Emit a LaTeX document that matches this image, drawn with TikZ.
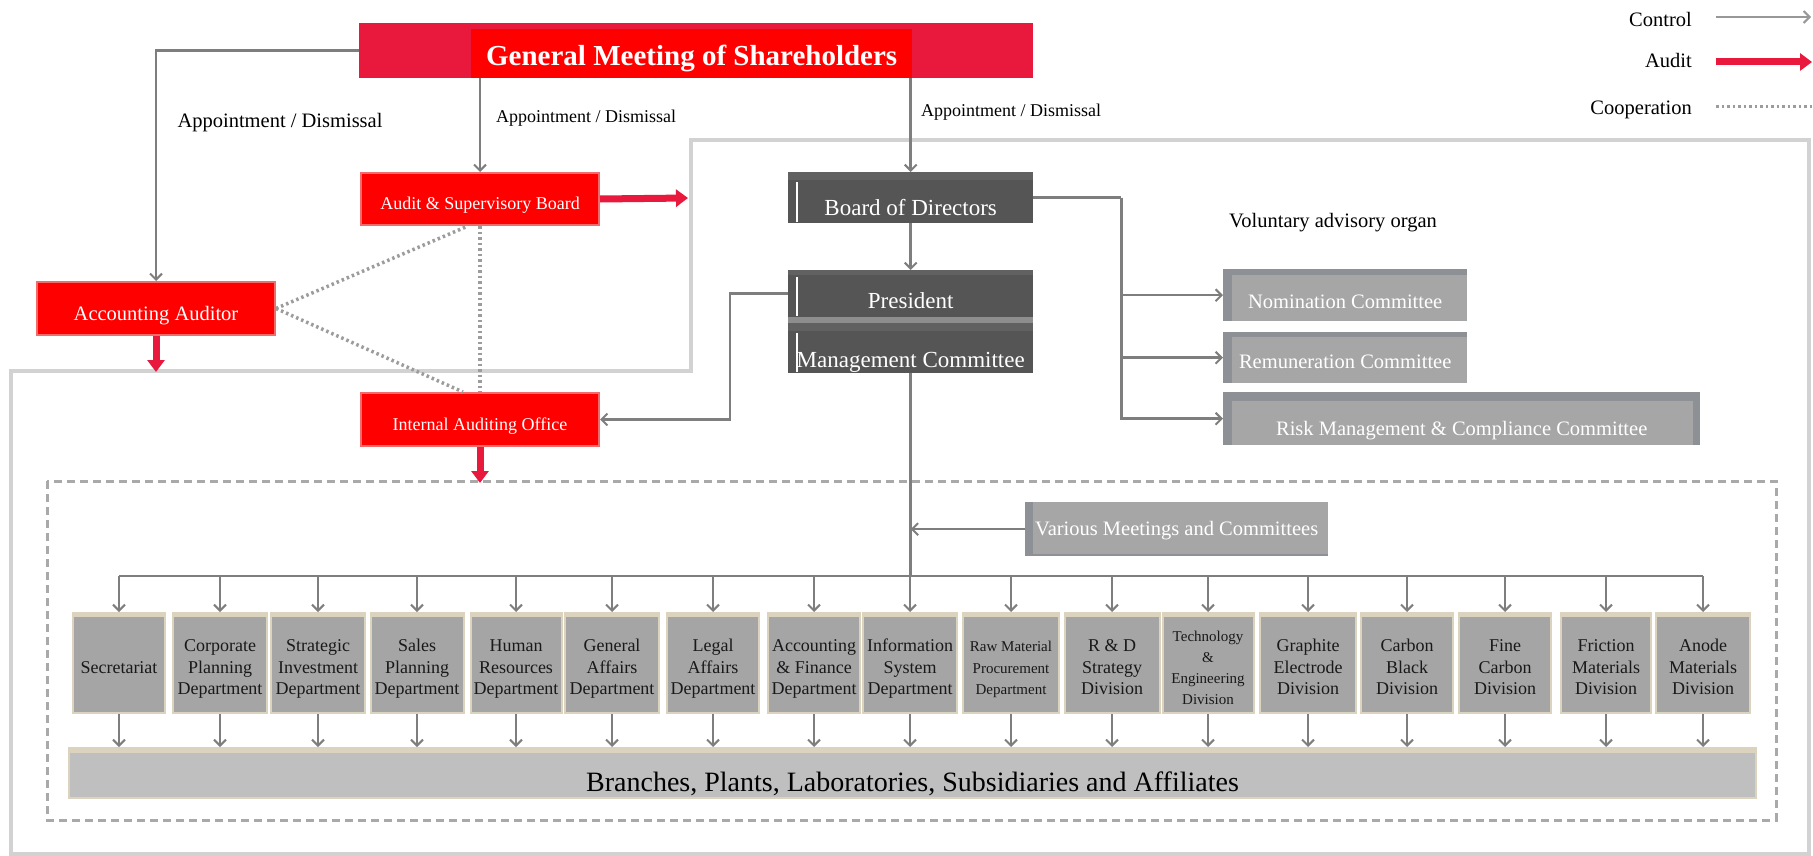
\documentclass[tikz,border=0pt]{standalone}
\usepackage{fontspec}
\setmainfont{Liberation Serif}
\usetikzlibrary{arrows.meta,calc}
\definecolor{crimson}{HTML}{E8193C}
\definecolor{pured}{HTML}{FF0000}
\definecolor{redborder}{HTML}{F36B6B}
\definecolor{darkbox}{HTML}{555555}
\definecolor{darkband}{HTML}{616161}
\definecolor{gapgray}{HTML}{8E8E8E}
\definecolor{comgray}{HTML}{A6A6A6}
\definecolor{comband}{HTML}{8D9094}
\definecolor{deptgray}{HTML}{A5A5A5}
\definecolor{tanc}{HTML}{DBD3BD}
\definecolor{bargray}{HTML}{BFBFBF}
\definecolor{ctrlgray}{HTML}{7E7E7E}
\definecolor{outlinegray}{HTML}{D2D2D2}
\definecolor{dashgray}{HTML}{A9A9A9}
\definecolor{coopgray}{HTML}{9C9C9C}
\newcommand{\myfs}[2]{\fontsize{#1}{#2}\selectfont}
\begin{document}
\begin{tikzpicture}[x=1pt,y=-1pt,
  ctrl/.style={draw=ctrlgray,line width=2.5pt,-{Straight Barb[length=6pt,width=12pt,line width=2pt]}},
  ctrlline/.style={draw=ctrlgray,line width=2.5pt},
  audit/.style={draw=crimson,line width=7pt,-{Triangle[length=12pt,width=17pt]}},
  coop/.style={draw=coopgray,line width=3.5pt,dash pattern=on 2.5pt off 3pt},
  redbox/.style={anchor=north west,fill=pured,draw=redborder,line width=2pt,text=white,inner sep=0pt,text depth=0pt,font=\myfs{18}{20}},
  darkboxs/.style={anchor=north west,fill=darkbox,inner sep=0pt,text=white,text depth=0pt,minimum width=245,font=\myfs{23}{26}},
  combox/.style={anchor=north west,fill=comgray,inner sep=0pt,text=white,text depth=0pt,font=\myfs{20.5}{24}},
  dept/.style={anchor=north,fill=deptgray,draw=tanc,line width=2pt,inner sep=0pt,align=center,minimum height=100,text depth=0pt,text=black!90},
  lbl/.style={inner sep=0pt,text=black,font=\myfs{20.5}{24}}
]
\useasboundingbox (0,0) rectangle (1813,856);

% frames
\draw[outlinegray,line width=4pt] (11,371) -- (691,371) -- (691,140) -- (1809,140) -- (1809,854) -- (11,854) -- cycle;
\draw[dashgray,line width=3pt,dash pattern=on 8pt off 5pt] (47,481) rectangle (1776,820);

% title
\node[anchor=north west,fill=crimson,minimum width=674,minimum height=55,inner sep=0pt] (gmband) at (359,23) {};
\node[anchor=north west,fill=pured,minimum width=441,minimum height=49,inner sep=0pt,text=white,text height=29pt,text depth=6pt,font=\bfseries\myfs{29}{32}] (gm) at (471,29) {General Meeting of Shareholders};

% red boxes
\node[redbox,minimum width=238,minimum height=52,text height=20pt] (asb) at (360,172) {Audit \& Supervisory Board};
\node[redbox,minimum width=238,minimum height=53,text height=23pt,font=\myfs{20.5}{23}] (acct) at (36,281) {Accounting Auditor};
\node[redbox,minimum width=238,minimum height=53,text height=21pt] (iao) at (360,392) {Internal Auditing Office};

% dark boxes
\node[darkboxs,minimum height=51,text height=35pt] (board) at (788,172) {Board of Directors};
\fill[darkband] (board.north west) rectangle ($(board.north east)+(0,8)$);
\fill[white] ($(board.north west)+(8,10)$) rectangle ($(board.south west)+(10,-1)$);
\node[darkboxs,minimum height=47,text height=29pt] (pres) at (788,270) {President};
\fill[darkband] (pres.north west) rectangle ($(pres.north east)+(0,5)$);
\fill[white] ($(pres.north west)+(8,7)$) rectangle ($(pres.south west)+(10,-1)$);
\node[darkboxs,minimum height=50,text height=38pt] (mgmt) at (788,323) {Management Committee};
\fill[darkband] (mgmt.north west) rectangle ($(mgmt.north east)+(0,8)$);
\fill[white] ($(mgmt.north west)+(8,10)$) rectangle ($(mgmt.south west)+(10,-1)$);
\fill[gapgray] (pres.south west) rectangle (mgmt.north east);

% committees
\node[combox,minimum width=244,minimum height=52,text height=26pt] (nom) at (1223,269) {Nomination Committee};
\fill[comband] (nom.north west) rectangle ($(nom.north east)+(0,6)$);
\fill[comband] (nom.north west) rectangle ($(nom.south west)+(9,0)$);
\node[combox,minimum width=244,minimum height=51,text height=21pt] (rem) at (1223,332) {Remuneration Committee};
\fill[comband] (rem.north west) rectangle ($(rem.north east)+(0,5)$);
\fill[comband] (rem.north west) rectangle ($(rem.south west)+(9,0)$);
\node[combox,minimum width=477,minimum height=53,text height=33pt] (risk) at (1223,392) {Risk Management \& Compliance Committee};
\fill[comband] (risk.north west) rectangle ($(risk.north east)+(0,9)$);
\fill[comband] (risk.north west) rectangle ($(risk.south west)+(9,0)$);
\fill[comband] ($(risk.north east)+(-7,0)$) rectangle (risk.south east);
\node[lbl,anchor=base] (vol) at (1333,227) {Voluntary advisory organ};

\node[combox,minimum width=303,minimum height=54,text height=12pt] (vm) at (1025,502) {Various Meetings and Committees};
\fill[comband] (vm.north west) rectangle ($(vm.south west)+(8,0)$);
\fill[comband] ($(vm.south west)+(0,-2)$) rectangle (vm.south east);

% labels
\node[lbl,anchor=base,font=\myfs{20.5}{24}] (ap1) at (280,128) {Appointment / Dismissal};
\node[lbl,anchor=base,font=\myfs{18}{20}] (ap2) at (586,123) {Appointment / Dismissal};
\node[lbl,anchor=base,font=\myfs{18}{20}] (ap3) at (1011,117) {Appointment / Dismissal};

% departments
\foreach \nm/\cx/\ww/\fz/\bs/\th/\txt in {
 d1/119/92/18/21.5/20/{Secretariat},
 d2/220/94/18/21.5/63/{Corporate\\Planning\\Department},
 d3/318/94/18/21.5/63/{Strategic\\Investment\\Department},
 d4/417/93/18/21.5/63/{Sales\\Planning\\Department},
 d5/516/91/18/21.5/63/{Human\\Resources\\Department},
 d6/612/94/18/21.5/63/{General\\Affairs\\Department},
 d7/713/92/18/21.5/63/{Legal\\Affairs\\Department},
 d8/814/92/18/21.5/63/{Accounting\\\& Finance\\Department},
 d9/910/94/18/21.5/63/{Information\\System\\Department},
 d10/1011/96/15/21.5/63/{Raw Material\\Procurement\\Department},
 d11/1112/95/18/21.5/63/{R \& D\\Strategy\\Division},
 d12/1208/91/15/21/83/{Technology\\\&\\Engineering\\Division},
 d13/1308/96/18/21.5/63/{Graphite\\Electrode\\Division},
 d14/1407/92/18/21.5/63/{Carbon\\Black\\Division},
 d15/1505/92/18/21.5/63/{Fine\\Carbon\\Division},
 d16/1606/90/18/21.5/63/{Friction\\Materials\\Division},
 d17/1703/94/18/21.5/63/{Anode\\Materials\\Division}}{
 \node[dept,minimum width=\ww,font=\myfs{\fz}{\bs},text height=\th pt] (\nm) at (\cx,612) {\txt};
 \fill[tanc] (\nm.north west) rectangle ($(\nm.north east)+(0,5)$);
}

\node[anchor=north west,fill=bargray,draw=tanc,line width=2pt,minimum width=1687,minimum height=50,inner sep=0pt,text height=36pt,text depth=0pt,font=\myfs{28}{32}] (bar) at (68,747) {Branches, Plants, Laboratories, Subsidiaries and Affiliates};
\fill[tanc] (bar.north west) rectangle ($(bar.north east)+(0,6)$);

% control connectors
\draw[ctrl] (gmband.west) -| (acct.north);
\draw[ctrl] (gmband.south -| asb.north) -- (asb.north);
\draw[ctrl] (gmband.south -| board.north) -- (board.north);
\draw[ctrl] (board.south) -- (pres.north);
\coordinate (bj) at ($(board.east)+(88,0)$);
\draw[ctrlline] (board.east) -- (bj);
\draw[ctrl] (bj) |- (nom.west);
\draw[ctrl] (bj) |- (rem.west);
\draw[ctrl] (bj) |- (risk.west);
\coordinate (pj) at (730,0);
\draw[ctrl] (pres.west) -| (pj |- iao.east) -- (iao.east);
\coordinate (busy) at (0,576);
\draw[ctrlline] (mgmt.south) -- (mgmt.south |- busy);
\draw[ctrl] (vm.west) -- (vm.west -| mgmt.south);
\draw[ctrlline] (d1.north |- busy) -- (d17.north |- busy);
\foreach \i in {1,...,17}{
 \draw[ctrl] (d\i.north |- busy) -- (d\i.north);
 \draw[ctrl] (d\i.south) -- (d\i.south |- bar.north);
}

% audit connectors
\coordinate (asbT) at (688,198);
\draw[audit] (asb.east) -- (asbT);
\coordinate (acctT) at ($(acct.south)+(0,36)$);
\draw[audit] (acct.south) -- (acctT);
\coordinate (iaoT) at ($(iao.south)+(0,36)$);
\draw[audit] (iao.south) -- (iaoT);

% cooperation
\draw[coop] (acct.east) -- ($(asb.south)+(-12,0)$);
\draw[coop] (acct.east) -- ($(iao.north)+(-17,0)$);
\draw[coop] (asb.south) -- (iao.north);

% legend
\node[lbl,anchor=base east] (lgC) at (1692,27) {Control};
\coordinate (lc1) at (1716,17);
\coordinate (lc2) at (1811,17);
\draw[ctrl,draw=ctrlgray!80] (lc1) -- (lc2);
\node[lbl,anchor=base east] (lgA) at (1692,68) {Audit};
\coordinate (la1) at (1716,62);
\coordinate (la2) at (1812,62);
\draw[audit] (la1) -- (la2);
\node[lbl,anchor=base east] (lgP) at (1692,115) {Cooperation};
\coordinate (lp1) at (1716,107);
\coordinate (lp2) at (1813,107);
\draw[coop,line width=3pt] (lp1) -- (lp2);
\end{tikzpicture}
\end{document}
